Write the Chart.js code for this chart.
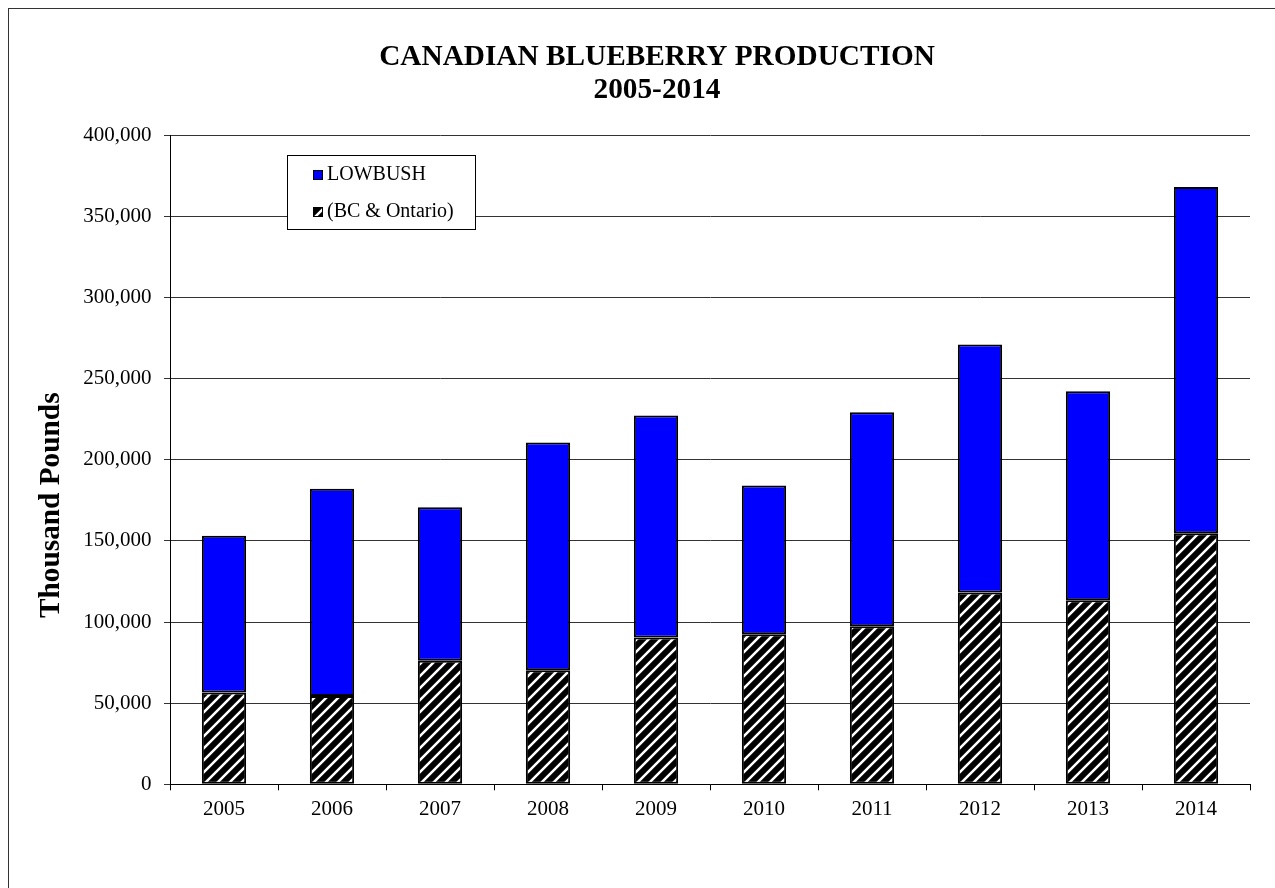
<!DOCTYPE html>
<html>
<head>
<meta charset="utf-8">
<title>Canadian Blueberry Production 2005-2014</title>
<script src="https://cdn.jsdelivr.net/npm/chart.js@4.4.1/dist/chart.umd.min.js"></script>
<style>
  html, body { margin: 0; padding: 0; background: #fff; overflow: hidden; }
  #frame { position: absolute; left: 8px; top: 8px; width: 1298px; height: 900px; border: 1px solid #333; box-sizing: border-box; }
  #wrap { position: absolute; left: 8px; top: 8px; width: 1298px; height: 900px; }
</style>
</head>
<body>
<div id="frame"></div>
<div id="wrap"><canvas id="chart" width="1298" height="900"></canvas></div>
<script>
const years = ['2005', '2006', '2007', '2008', '2009', '2010', '2011', '2012', '2013', '2014'];
// thousand pounds
const lowbush = [96600, 127700, 94700, 140400, 136800, 91700, 131900, 152800, 128800, 213400];
const highbush = [56600, 54500, 76100, 70300, 90500, 92500, 97400, 118200, 113400, 154800];
const yTickValues = [0, 50000, 100000, 150000, 200000, 250000, 300000, 350000, 400000];

const serif = "'Liberation Serif', 'Times New Roman', serif";
const canvas = document.getElementById('chart');
const ctx = canvas.getContext('2d');

// black bars with thin white "/" stripes
function makeHatch() {
  const tile = document.createElement('canvas');
  tile.width = 12;
  tile.height = 12;
  const g = tile.getContext('2d');
  g.fillStyle = '#000';
  g.fillRect(0, 0, 12, 12);
  g.strokeStyle = '#fff';
  g.lineWidth = 2.5;
  g.beginPath();
  g.moveTo(-2, 14); g.lineTo(14, -2);
  g.moveTo(-2, 2); g.lineTo(2, -2);
  g.moveTo(10, 14); g.lineTo(14, 10);
  g.stroke();
  return ctx.createPattern(tile, 'repeat');
}
const hatch = makeHatch();

// boxed legend sitting inside the plot, LOWBUSH listed first
const legendBox = {
  id: 'legendBox',
  afterDraw(chart) {
    const { ctx, chartArea } = chart;
    const x = Math.round(chartArea.left + 117);
    const y = Math.round(chartArea.top + 20);
    ctx.save();
    ctx.fillStyle = '#fff';
    ctx.fillRect(x, y, 188, 74);
    ctx.strokeStyle = '#000';
    ctx.lineWidth = 1;
    ctx.strokeRect(x + 0.5, y + 0.5, 188, 74);
    const items = chart.data.datasets.slice().reverse();
    items.forEach((ds, i) => {
      const cy = y + 20 + i * 37;
      ctx.fillStyle = ds.backgroundColor;
      ctx.fillRect(x + 26, cy - 5, 10, 10);
      ctx.strokeStyle = '#000';
      ctx.strokeRect(x + 26.5, cy - 4.5, 9, 9);
      ctx.fillStyle = '#000';
      ctx.font = '20px ' + serif;
      ctx.textBaseline = 'middle';
      ctx.textAlign = 'left';
      ctx.fillText(ds.label, x + 40, cy);
    });
    ctx.restore();
  }
};

// y axis title, placed a bit below the middle as in the original
const yTitle = {
  id: 'yTitle',
  afterDraw(chart) {
    const { ctx, chartArea } = chart;
    ctx.save();
    ctx.translate(chartArea.left - 119, chartArea.top + chartArea.height * 0.57);
    ctx.rotate(-Math.PI / 2);
    ctx.font = 'bold 29.3px ' + serif;
    ctx.textAlign = 'center';
    ctx.textBaseline = 'middle';
    ctx.fillStyle = '#000';
    ctx.fillText('Thousand Pounds', 0, 0);
    ctx.restore();
  }
};

new Chart(ctx, {
  type: 'bar',
  data: {
    labels: years,
    datasets: [
      {
        label: '(BC & Ontario)',
        data: highbush,
        backgroundColor: hatch,
        borderColor: '#000',
        borderWidth: 2,
        borderSkipped: false,
        barPercentage: 0.41,
        categoryPercentage: 1
      },
      {
        label: 'LOWBUSH',
        data: lowbush,
        backgroundColor: '#0000ff',
        borderColor: '#000',
        borderWidth: 2,
        borderSkipped: false,
        barPercentage: 0.41,
        categoryPercentage: 1
      }
    ]
  },
  options: {
    responsive: false,
    animation: false,
    layout: { padding: 0 },
    plugins: {
      legend: { display: false },
      tooltip: { enabled: false },
      title: {
        display: true,
        text: ['CANADIAN BLUEBERRY PRODUCTION', '2005-2014'],
        color: '#000',
        font: { family: serif, size: 29.3, weight: 'bold', lineHeight: 1.12 },
        padding: { top: 33, bottom: 28.7 }
      }
    },
    scales: {
      x: {
        stacked: true,
        grid: { display: true, drawOnChartArea: false, tickLength: 6, color: '#000' },
        border: { color: '#000', width: 1 },
        ticks: { color: '#000', font: { family: serif, size: 21 }, padding: 7, maxRotation: 0 },
        afterFit: scale => { scale.height = 123.7; }
      },
      y: {
        stacked: true,
        min: 0,
        max: 400000,
        afterBuildTicks: scale => { scale.ticks = yTickValues.map(v => ({ value: v })); },
        ticks: {
          color: '#000',
          font: { family: serif, size: 21 },
          padding: 12.5,
          callback: v => v.toLocaleString('en-US')
        },
        grid: { color: '#333', lineWidth: 1, tickLength: 6 },
        border: { color: '#000', width: 1 },
        afterFit: scale => { scale.width = 162; }
      },
      yPad: {
        type: 'linear',
        position: 'right',
        display: true,
        grid: { display: false },
        border: { display: false },
        ticks: { display: false },
        afterFit: scale => { scale.width = 56; }
      }
    }
  },
  plugins: [legendBox, yTitle]
});
</script>
</body>
</html>
